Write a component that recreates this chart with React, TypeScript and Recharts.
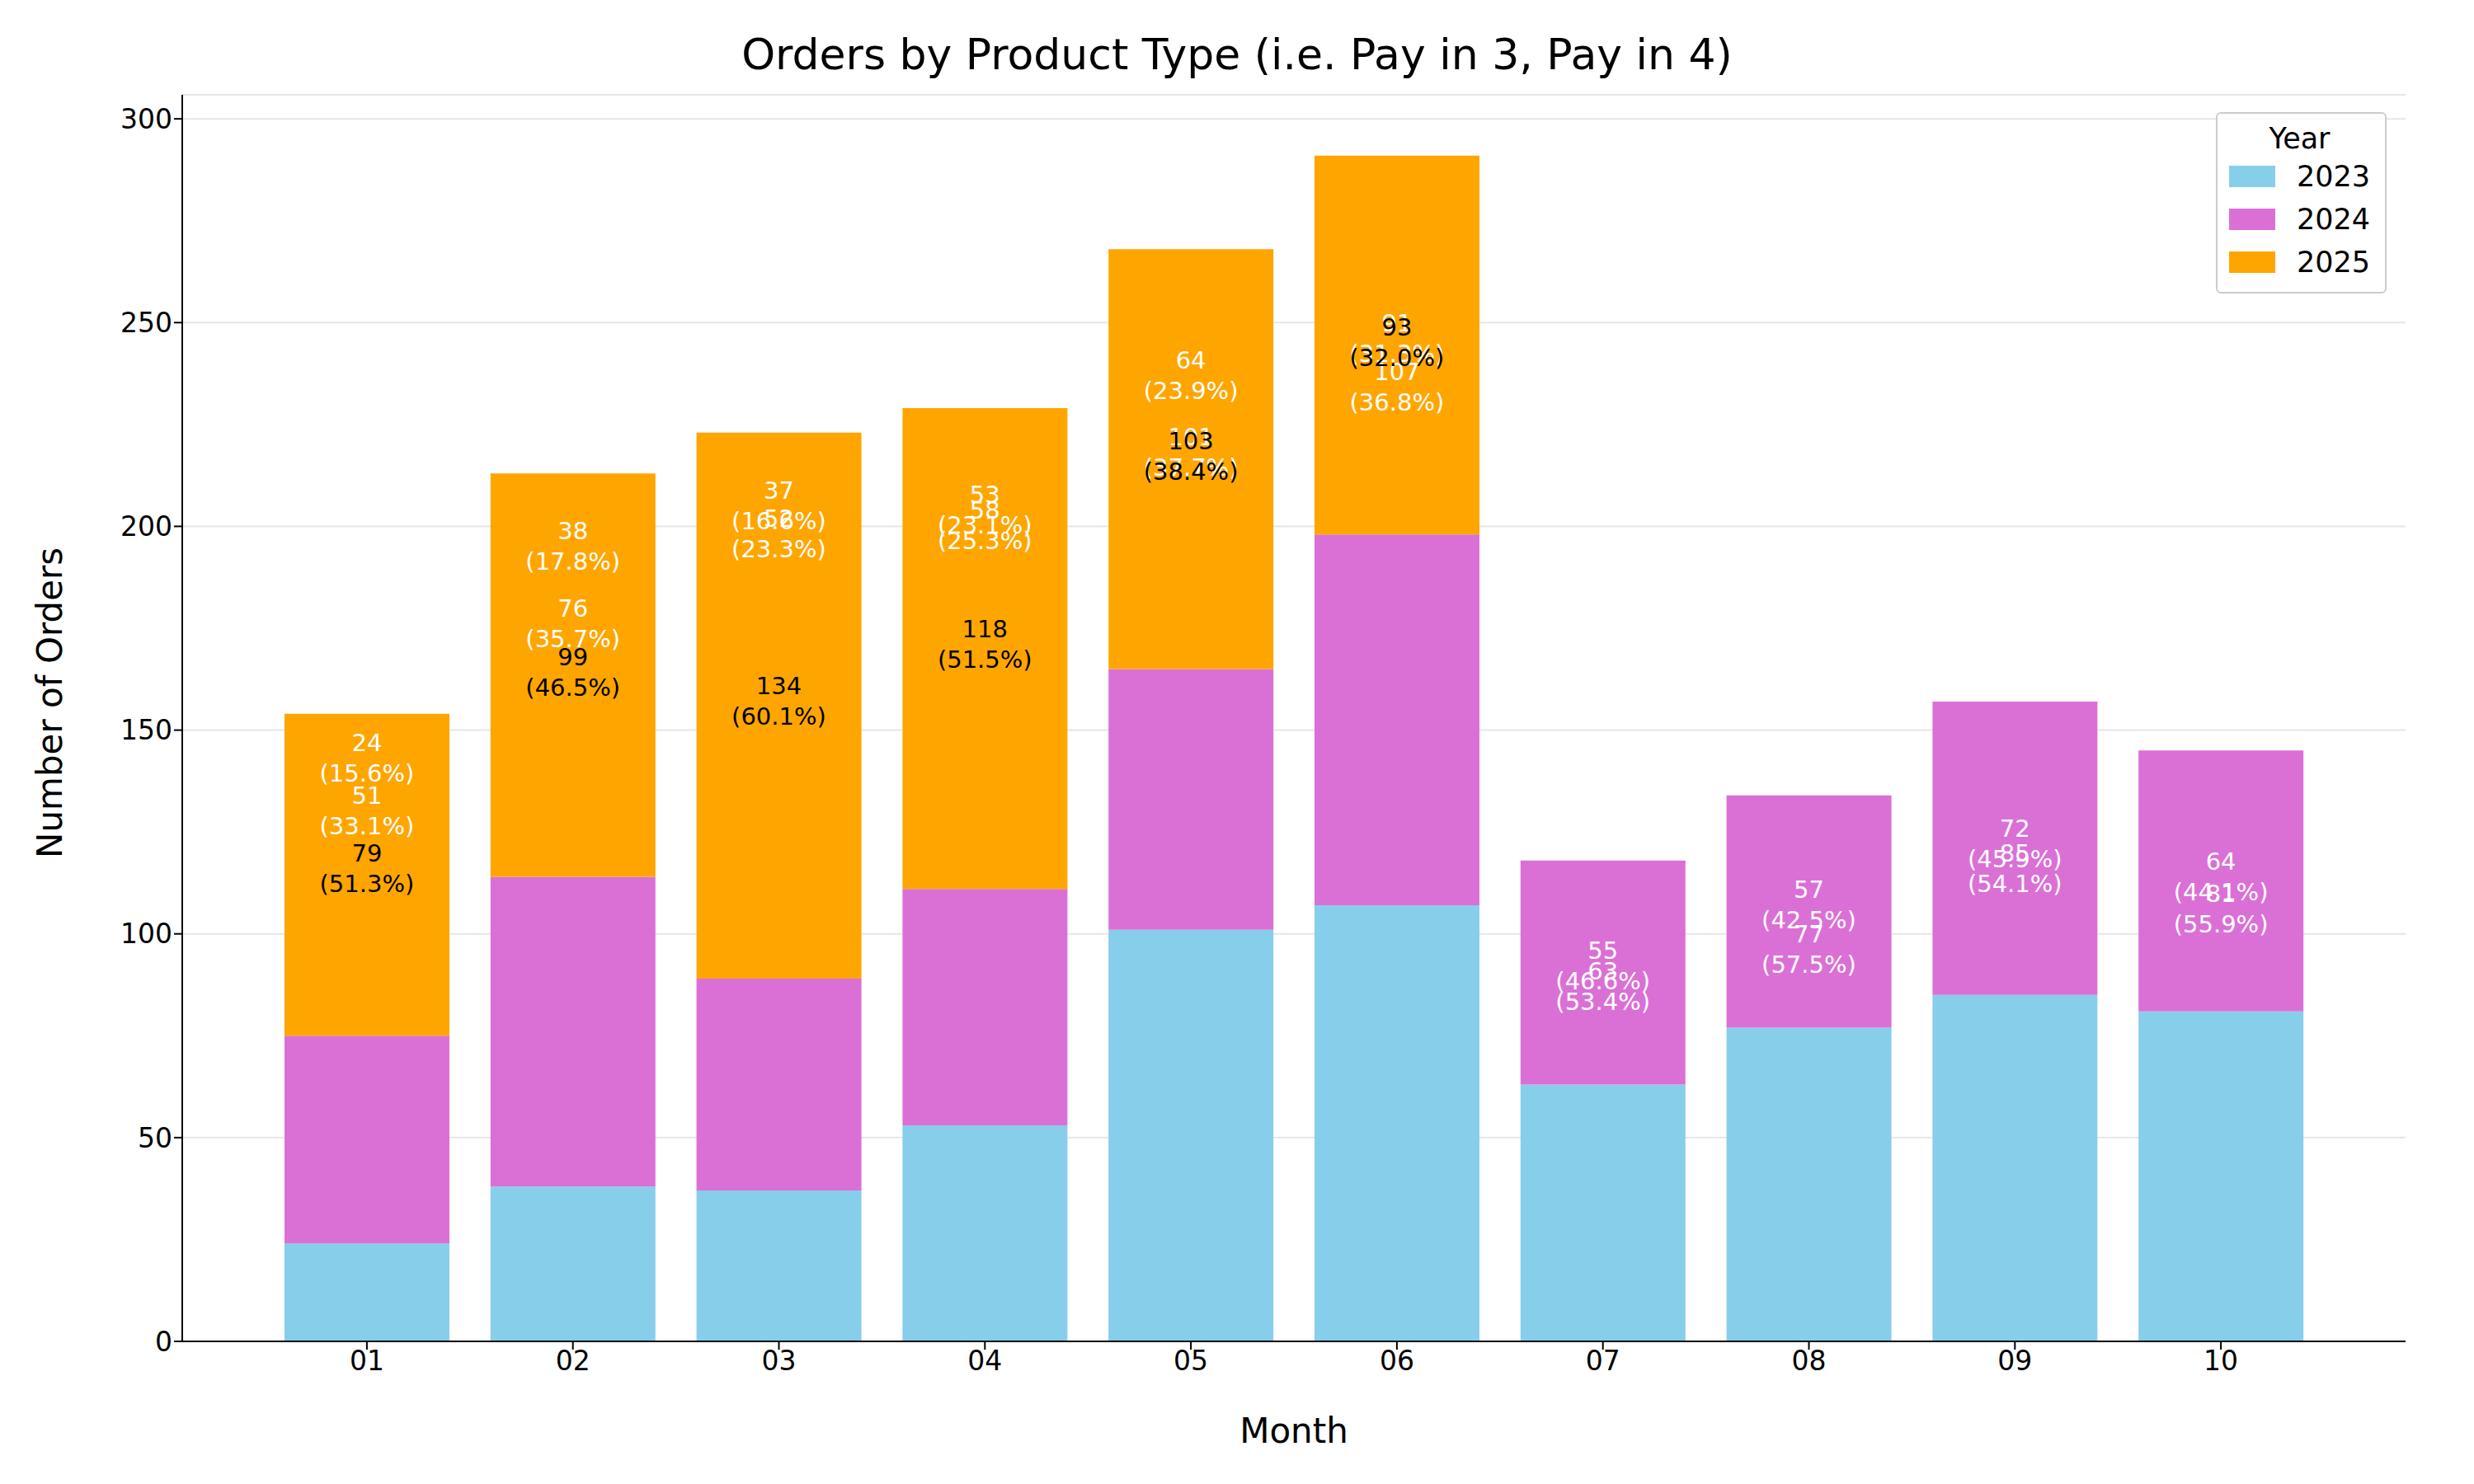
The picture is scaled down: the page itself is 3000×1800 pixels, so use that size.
import { ComposedChart, Bar, Scatter, XAxis, YAxis, CartesianGrid } from "recharts";

const months = ["01", "02", "03", "04", "05", "06", "07", "08", "09", "10"];
const years = ["2023", "2024", "2025"];
const colors = ["#87CEEB", "#DA70D6", "#FFA500"];
const textColors = ["#ffffff", "#ffffff", "#000000"];

const orders2023 = [24, 38, 37, 53, 101, 107, 63, 77, 85, 81];
const orders2024 = [51, 76, 52, 58, 64, 91, 55, 57, 72, 64];
const orders2025 = [79, 99, 134, 118, 103, 93, null, null, null, null];

// where the value labels sit (in order units)
const labelY2023 = [143, 195, 205, 204, 218, 234, 87, 96, 116, 106];
const labelY2024 = [130, 176, 198, 200, 237, 246, 92, 107, 122, 114];
const labelY2025 = [116, 164, 157, 171, 217, 245, null, null, null, null];

const yTicks = [0, 50, 100, 150, 200, 250, 300];

const series = [orders2023, orders2024, orders2025];
const labelYs = [labelY2023, labelY2024, labelY2025];

const data = months.map((m, i) => {
  const total = series.reduce((s, arr) => s + (arr[i] ?? 0), 0);
  const row: { [key: string]: any } = { month: m };
  years.forEach((y, k) => {
    const v = series[k][i];
    row["v" + y] = v;
    row["l" + y] = labelYs[k][i];
    row["t" + y] = v == null ? null : `${v}|(${((v / total) * 100).toFixed(1)}%)`;
  });
  return row;
});

const font = "DejaVu Sans, sans-serif";

const makeLabel = (k: number) => (props: any) => {
  const { cx, cy, payload } = props;
  const t = payload["t" + years[k]];
  if (t == null || !isFinite(cx) || !isFinite(cy)) return <g />;
  const [a, b] = t.split("|");
  return (
    <text x={cx} textAnchor="middle" fill={textColors[k]} fontSize={29} fontFamily={font}>
      <tspan x={cx} y={cy - 9}>{a}</tspan>
      <tspan x={cx} y={cy + 28}>{b}</tspan>
    </text>
  );
};

export default function App() {
  return (
    <div style={{ position: "absolute", left: 0, top: 0, width: 3000, height: 1800, background: "#fff" }}>
      <div
        style={{
          position: "absolute",
          top: 36,
          width: 3000,
          textAlign: "center",
          fontFamily: font,
          fontSize: 52,
        }}
      >
        Orders by Product Type (i.e. Pay in 3, Pay in 4)
      </div>
      <ComposedChart
        width={3000}
        height={1800}
        data={data}
        margin={{ top: 115, right: 83, bottom: 0, left: 0 }}
        barCategoryGap="10%"
      >
        <CartesianGrid vertical={false} stroke="#e6e6e6" strokeWidth={2} />
        <XAxis
          dataKey="month"
          height={173}
          padding={{ left: 99, right: 99 }}
          stroke="#000"
          strokeWidth={2}
          tick={{ fill: "#000", fontSize: 33, fontFamily: font }}
          tickSize={10}
          label={{ value: "Month", position: "insideBottom", offset: 50, fill: "#000", fontSize: 42, fontFamily: font }}
        />
        <XAxis xAxisId="top" dataKey="month" orientation="top" height={0} tick={false} tickLine={false} stroke="#000" strokeWidth={2} />
        <YAxis
          width={221}
          domain={[0, 305.9]}
          ticks={yTicks}
          stroke="#000"
          strokeWidth={2}
          tick={{ fill: "#000", fontSize: 33, fontFamily: font }}
          tickSize={10}
          label={{ value: "Number of Orders", angle: -90, position: "insideLeft", offset: 60, dy: 170, fill: "#000", fontSize: 42, fontFamily: font }}
        />
        <YAxis yAxisId="right" orientation="right" width={0} tick={false} tickLine={false} stroke="#000" strokeWidth={2} />
        {years.map((y, k) => (
          <Bar key={y} dataKey={"v" + y} name={y} stackId="a" fill={colors[k]} isAnimationActive={false} />
        ))}
        {years.map((y, k) => (
          <Scatter key={"s" + y} dataKey={"l" + y} legendType="none" shape={makeLabel(k)} isAnimationActive={false} />
        ))}
      </ComposedChart>
      <div
        style={{
          position: "absolute",
          top: 136,
          right: 106,
          border: "2px solid #cccccc",
          borderRadius: 6,
          background: "rgba(255,255,255,0.85)",
          padding: "10px 18px 4px 14px",
          fontFamily: font,
          fontSize: 35,
        }}
      >
        <div style={{ textAlign: "center", marginBottom: 6 }}>Year</div>
        {years.map((y, k) => (
          <div key={y} style={{ display: "flex", alignItems: "center", marginBottom: 12 }}>
            <span style={{ display: "inline-block", width: 56, height: 26, background: colors[k], marginRight: 26 }} />
            {y}
          </div>
        ))}
      </div>
    </div>
  );
}
